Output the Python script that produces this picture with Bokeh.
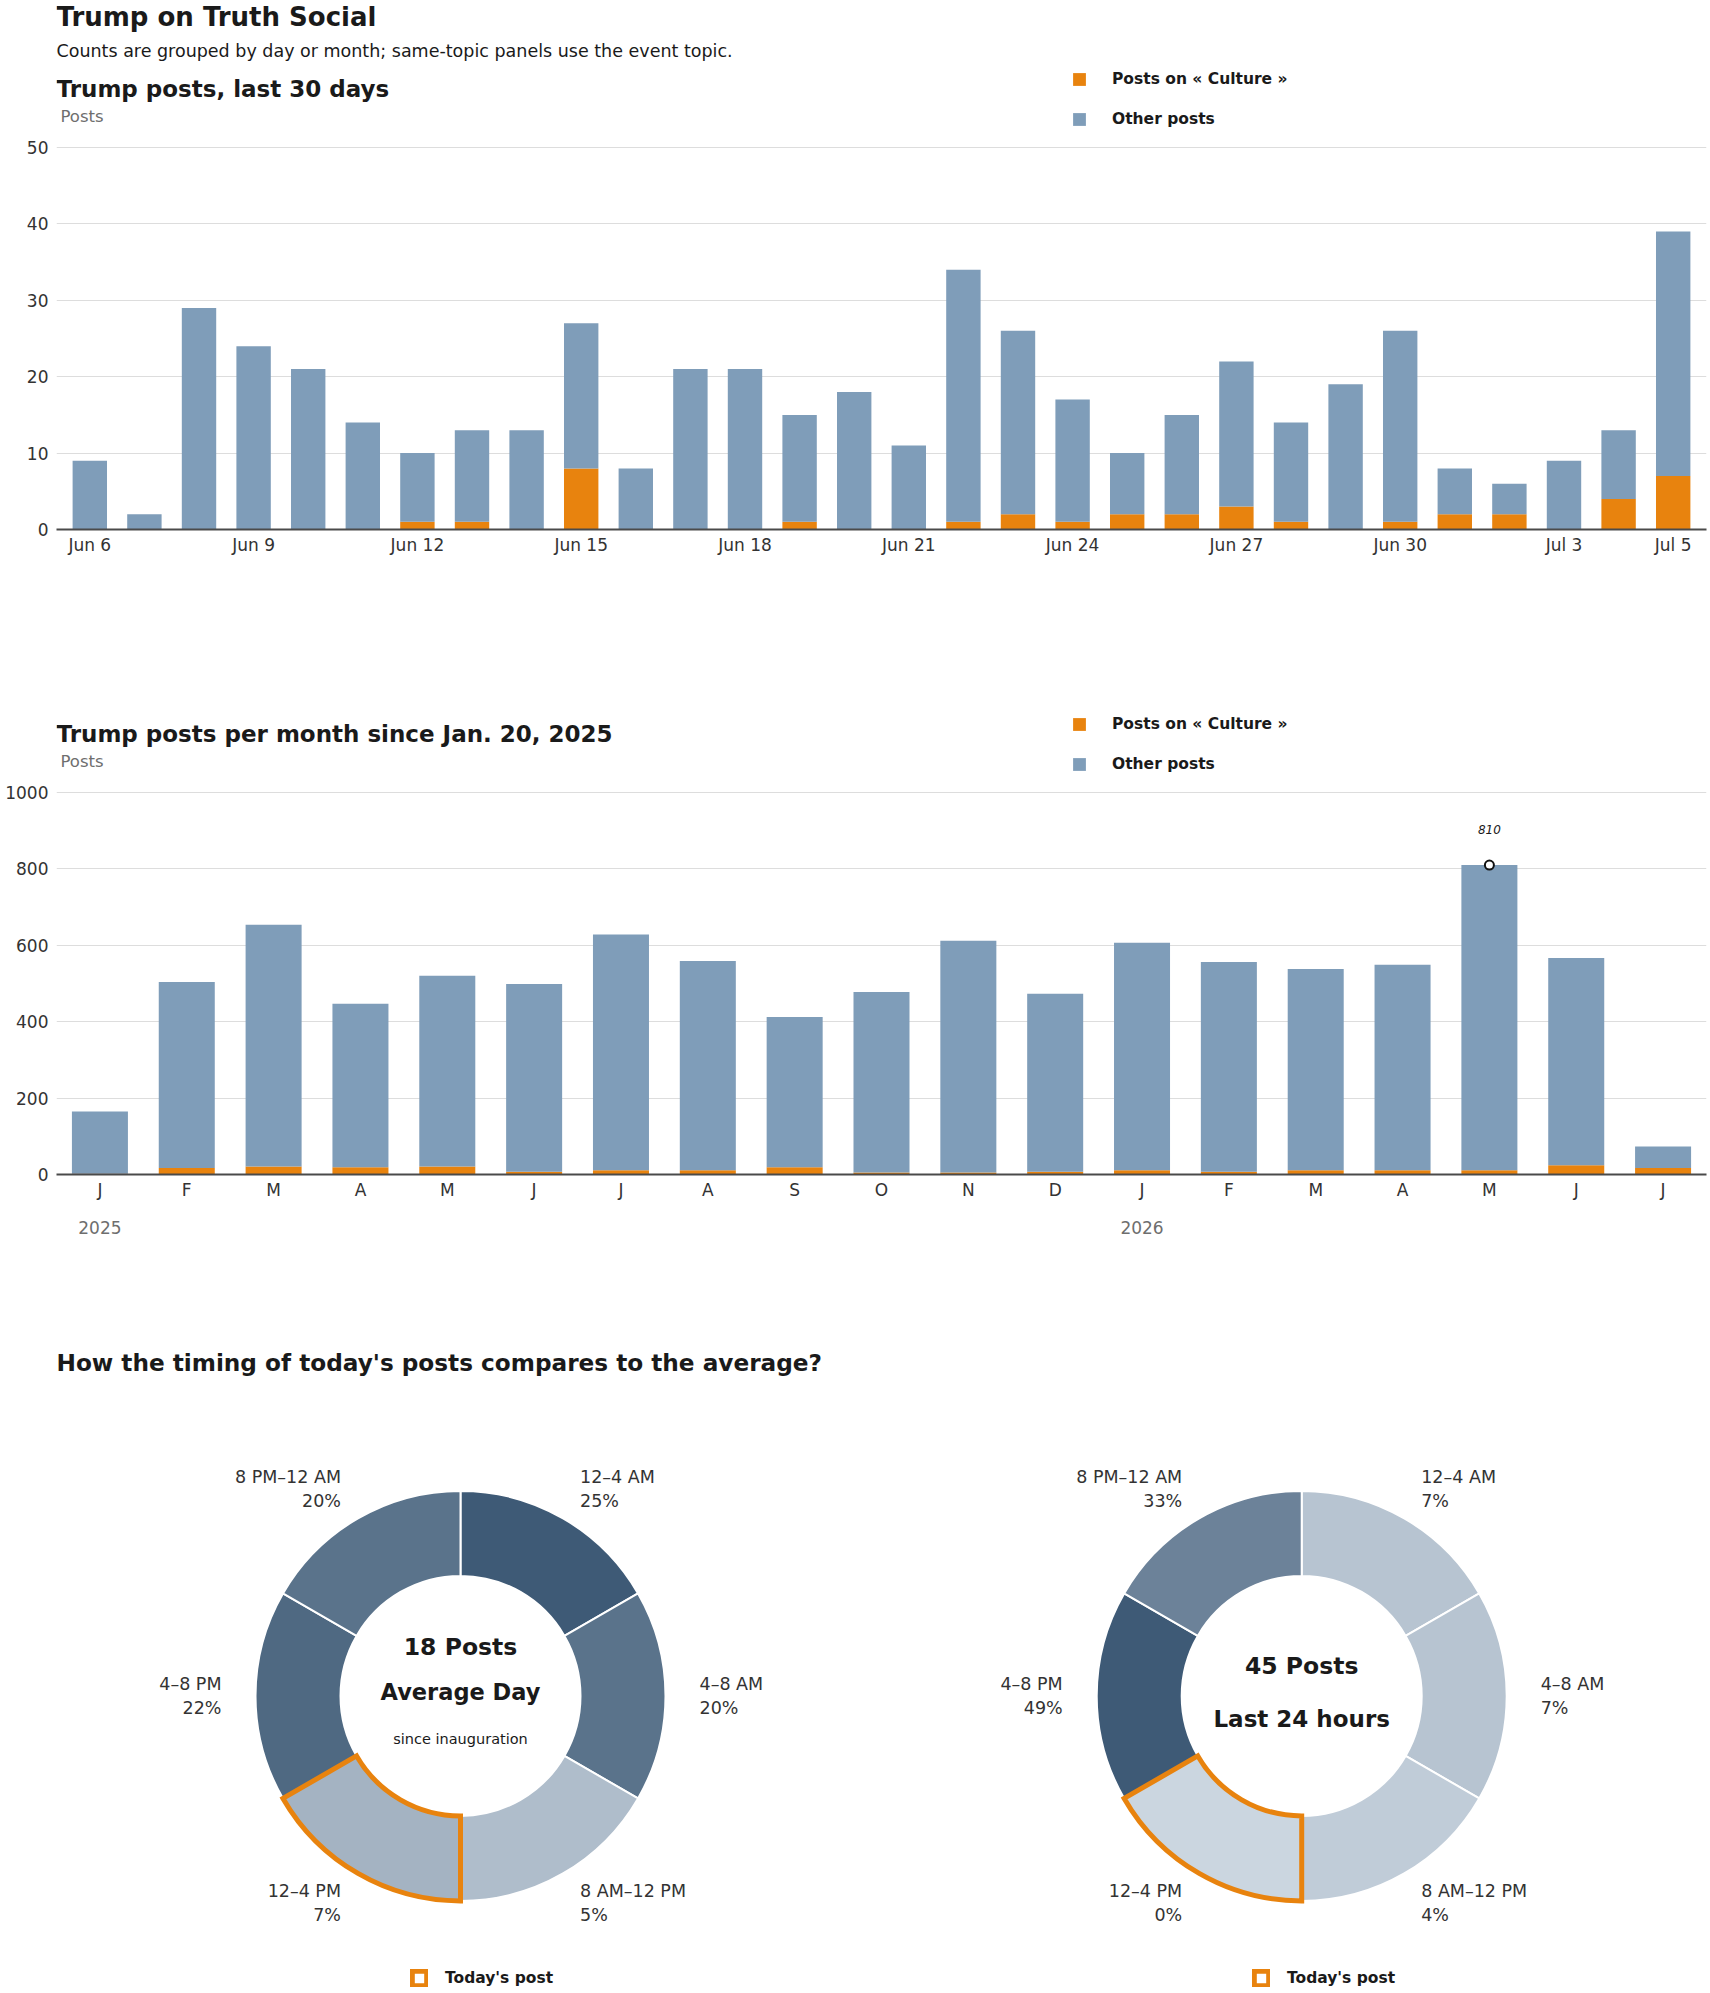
import numpy as np
from bokeh.plotting import figure
from bokeh.models import (Range1d, FixedTicker, LinearAxis, Legend, LegendItem,
                          ColumnDataSource, LinearColorMapper, CDSView, IndexFilter)
from bokeh.layouts import column
from bokeh.embed import file_html
from bokeh.resources import INLINE
from bokeh.core.properties import value
from bokeh.transform import transform

# ---------------- data ----------------
day_labels = ["Jun 6", "Jun 7", "Jun 8", "Jun 9", "Jun 10", "Jun 11", "Jun 12", "Jun 13",
              "Jun 14", "Jun 15", "Jun 16", "Jun 17", "Jun 18", "Jun 19", "Jun 20", "Jun 21",
              "Jun 22", "Jun 23", "Jun 24", "Jun 25", "Jun 26", "Jun 27", "Jun 28", "Jun 29",
              "Jun 30", "Jul 1", "Jul 2", "Jul 3", "Jul 4", "Jul 5"]
day_total = [9, 2, 29, 24, 21, 14, 10, 13, 13, 27,
             8, 21, 21, 15, 18, 11, 34, 26, 17, 10,
             15, 22, 14, 19, 26, 8, 6, 9, 13, 39]
day_culture = [0, 0, 0, 0, 0, 0, 1, 1, 0, 8,
               0, 0, 0, 1, 0, 0, 1, 2, 1, 2,
               2, 3, 1, 0, 1, 2, 2, 0, 4, 7]
day_tick_labels = ["Jun 6", "Jun 9", "Jun 12", "Jun 15", "Jun 18", "Jun 21",
                   "Jun 24", "Jun 27", "Jun 30", "Jul 3", "Jul 5"]
day_y_ticks = [0, 10, 20, 30, 40, 50]

month_labels = ["J", "F", "M", "A", "M", "J", "J", "A", "S", "O", "N", "D",
                "J", "F", "M", "A", "M", "J", "J"]
month_total = [165, 504, 654, 447, 520, 499, 628, 559, 412, 478, 612, 473,
               607, 556, 538, 549, 810, 567, 73]
month_culture = [2, 17, 21, 19, 21, 7, 11, 11, 19, 5, 5, 7,
                 11, 7, 11, 11, 11, 24, 17]
month_y_ticks = [0, 200, 400, 600, 800, 1000]
year_labels = ["2025", "2026"]
year_first_month = [0, 12]

legend_labels = ["Posts on « Culture »", "Other posts"]

slot_labels = ["12–4 AM", "4–8 AM", "8 AM–12 PM", "12–4 PM", "4–8 PM", "8 PM–12 AM"]
avg_share = [25, 20, 5, 7, 22, 20]
today_share = [7, 7, 4, 0, 49, 33]
avg_posts = 18
today_posts = 45
current_slot = "12–4 PM"

# ---------------- style ----------------
FONT = "DejaVu Sans"
ORANGE = "#e8830e"
BLUE = "#7f9db9"
INK = "#1a1a1a"
TICK = "#333333"
GRAY = "#6e6e6e"
GRID = "#dddddd"
LIGHT = (203, 214, 224)
DARK = (62, 90, 118)

W = 1710
LEFT = 56
RIGHT = 4
FRAME_W = W - LEFT - RIGHT
SEC_H = 645
FRAME_H = 529
SPAN = 382.0      # pixels from 0 to the top tick


def txt(p, x, y, s, size, dx=0, dy=0, color=INK, style="normal", align="left",
        baseline="middle"):
    p.text(x=[x], y=[y], text=[s], x_offset=dx, y_offset=dy,
           text_font=value(FONT), text_font_size=size, text_font_style=style,
           text_color=color, text_align=align, text_baseline=baseline)


def bar_section(labels, total, culture, yticks, bar_w, pad, xtick_idx, xtick_text,
                title, main=False):
    n = len(labels)
    other = [t - c for t, c in zip(total, culture)]
    src = ColumnDataSource(dict(x=list(range(n)), culture=culture, other=other,
                                total=total, label=labels))
    ymax = yticks[-1]
    y_end = FRAME_H * ymax / SPAN
    x0, x1 = -pad, n - 1 + pad
    p = figure(width=W, height=SEC_H, output_backend="svg", toolbar_location=None,
               title=None, x_range=Range1d(x0, x1), y_range=Range1d(0, y_end),
               min_border_left=LEFT, min_border_right=RIGHT, min_border_top=0,
               min_border_bottom=SEC_H - FRAME_H)
    p.outline_line_color = None
    p.background_fill_color = "white"
    p.border_fill_color = "white"

    rs = p.vbar_stack(["culture", "other"], x="x", width=bar_w, color=[ORANGE, BLUE],
                      line_color=None, source=src)

    p.yaxis.ticker = FixedTicker(ticks=yticks)
    p.yaxis.axis_line_color = None
    p.yaxis.major_tick_line_color = None
    p.yaxis.minor_tick_line_color = None
    p.yaxis.major_tick_out = 0
    p.yaxis.major_tick_in = 0
    p.yaxis.major_label_standoff = 8
    p.yaxis.major_label_text_font = FONT
    p.yaxis.major_label_text_font_size = "17px"
    p.yaxis.major_label_text_color = TICK

    p.xaxis.ticker = FixedTicker(ticks=xtick_idx)
    p.xaxis.major_label_overrides = {i: t for i, t in zip(xtick_idx, xtick_text)}
    p.xaxis.axis_line_color = "#4a4a4a"
    p.xaxis.axis_line_width = 2
    p.xaxis.major_tick_line_color = None
    p.xaxis.minor_tick_line_color = None
    p.xaxis.major_tick_out = 0
    p.xaxis.major_tick_in = 0
    p.xaxis.major_label_standoff = 5
    p.xaxis.major_label_text_font = FONT
    p.xaxis.major_label_text_font_size = "17px"
    p.xaxis.major_label_text_color = TICK

    p.xgrid.visible = False
    p.ygrid.grid_line_color = GRID
    p.ygrid.grid_line_width = 1

    # headings: pixel offsets from the frame's top-left corner
    if main:
        txt(p, x0, y_end, "Trump on Truth Social", "26px", dy=16.7, style="bold")
        txt(p, x0, y_end, "Counts are grouped by day or month; same-topic panels use the event topic.",
            "17.5px", dy=50.2)
    txt(p, x0, y_end, title, "23px", dy=88, style="bold")
    txt(p, x0, y_end, "Posts", "16.5px", dx=4, dy=116.2, color=GRAY)

    legend = Legend(items=[LegendItem(label=legend_labels[0], renderers=[rs[0]]),
                           LegendItem(label=legend_labels[1], renderers=[rs[1]])],
                    location=(1015, 400), orientation="vertical",
                    glyph_width=16, glyph_height=16, label_height=20, spacing=20,
                    label_standoff=25, padding=0, margin=0,
                    border_line_color=None, background_fill_alpha=0,
                    label_text_font=FONT, label_text_font_style="bold",
                    label_text_font_size="15.5px", label_text_color=INK)
    p.add_layout(legend)
    return p, src


# ---- daily ----
day_tick_idx = [day_labels.index(t) for t in day_tick_labels]
pA, _ = bar_section(day_labels, day_total, day_culture, day_y_ticks, 0.63, 0.61,
                    day_tick_idx, day_tick_labels, "Trump posts, last 30 days", main=True)

# ---- monthly ----
m_idx = list(range(len(month_labels)))
pB, srcB = bar_section(month_labels, month_total, month_culture, month_y_ticks, 0.645, 0.5,
                       m_idx, month_labels, "Trump posts per month since Jan. 20, 2025")
year_axis = LinearAxis(ticker=FixedTicker(ticks=year_first_month),
                       major_label_overrides={i: y for i, y in zip(year_first_month, year_labels)},
                       axis_line_color=None, major_tick_line_color=None,
                       minor_tick_line_color=None, major_tick_out=0, major_tick_in=0,
                       major_label_standoff=18, major_label_text_font=FONT,
                       major_label_text_font_size="17px", major_label_text_color=GRAY)
pB.add_layout(year_axis, "below")

peak = int(np.argmax(month_total))
peak_src = ColumnDataSource(dict(x=[peak], y=[month_total[peak]], t=[str(month_total[peak])]))
pB.scatter(x="x", y="y", source=peak_src, size=9, marker="circle",
           fill_color="white", line_color="#111111", line_width=2)
pB.text(x="x", y="y", text="t", source=peak_src, y_offset=-36, text_align="center",
        text_baseline="middle", text_font=value(FONT), text_font_size="12px",
        text_font_style="italic", text_color=INK)

# ---- donuts ----
DON_H = 1993 - 2 * SEC_H
pC = figure(width=W, height=DON_H, output_backend="svg", toolbar_location=None,
            title=None, x_range=Range1d(0, FRAME_W), y_range=Range1d(0, DON_H),
            x_axis_location=None, y_axis_location=None, min_border=0,
            min_border_left=LEFT, min_border_right=RIGHT)
pC.outline_line_color = None
pC.grid.visible = False

txt(pC, 0, DON_H - 72, "How the timing of today's posts compares to the average?",
    "23.2px", style="bold")

R_IN, R_OUT, R_LAB = 120, 205, 239
palette = ["#%02x%02x%02x" % tuple(int(round(a + (b - a) * i / 255)) for a, b in zip(LIGHT, DARK))
           for i in range(256)]


def donut(p, cx, cy, share, lines, legend_x):
    k = np.arange(len(slot_labels))
    step = 2 * np.pi / len(slot_labels)
    src = ColumnDataSource(dict(
        x=[cx] * len(k), y=[cy] * len(k), slot=slot_labels, share=share,
        start=np.pi / 2 - (k + 1) * step, end=np.pi / 2 - k * step))
    mapper = LinearColorMapper(palette=palette, low=0, high=max(share))
    p.annular_wedge(x="x", y="y", inner_radius=R_IN, outer_radius=R_OUT,
                    start_angle="start", end_angle="end", source=src,
                    fill_color=transform("share", mapper), line_color="white", line_width=2)
    view = CDSView(filter=IndexFilter([slot_labels.index(current_slot)]))
    hl = p.annular_wedge(x="x", y="y", inner_radius=R_IN, outer_radius=R_OUT,
                         start_angle="start", end_angle="end", source=src, view=view,
                         fill_color=None, line_color=ORANGE, line_width=5, line_join="miter")
    theta = (k + 0.5) * step
    lx = cx + R_LAB * np.sin(theta)
    ly = cy + R_LAB * np.cos(theta)
    for side, align in ((np.sin(theta) > 0, "left"), (np.sin(theta) < 0, "right")):
        ls = ColumnDataSource(dict(x=lx[side], y=ly[side],
                                   name=[slot_labels[i] for i in k[side]],
                                   pct=["%d%%" % share[i] for i in k[side]]))
        for field, off in (("name", -12), ("pct", 12.5)):
            p.text(x="x", y="y", text=field, source=ls, y_offset=off,
                   text_align=align, text_baseline="middle", text_font=value(FONT),
                   text_font_size="17.5px", text_color=TICK)
    for s, size, style, dy in lines:
        txt(p, cx, cy, s, size, dy=dy, style=style, align="center")
    lg = Legend(items=[LegendItem(label="Today's post", renderers=[hl])],
                location=(legend_x, 6), glyph_width=18, glyph_height=18, label_height=18,
                label_standoff=17, padding=0, margin=0, border_line_color=None,
                background_fill_alpha=0, label_text_font=FONT,
                label_text_font_style="bold", label_text_font_size="15.5px",
                label_text_color=INK)
    p.add_layout(lg)


donut(pC, 404, 297.6, avg_share,
      [("%d Posts" % avg_posts, "23.5px", "bold", -48.6),
       ("Average Day", "22.5px", "bold", -4.4),
       ("since inauguration", "14.5px", "normal", 43)], 354)
donut(pC, 1245.2, 297.6, today_share,
      [("%d Posts" % today_posts, "23.5px", "bold", -30),
       ("Last 24 hours", "23px", "bold", 23)], 1196)

layout = column(pA, pB, pC, spacing=0)
open("out.html", "w").write(file_html(layout, INLINE))
